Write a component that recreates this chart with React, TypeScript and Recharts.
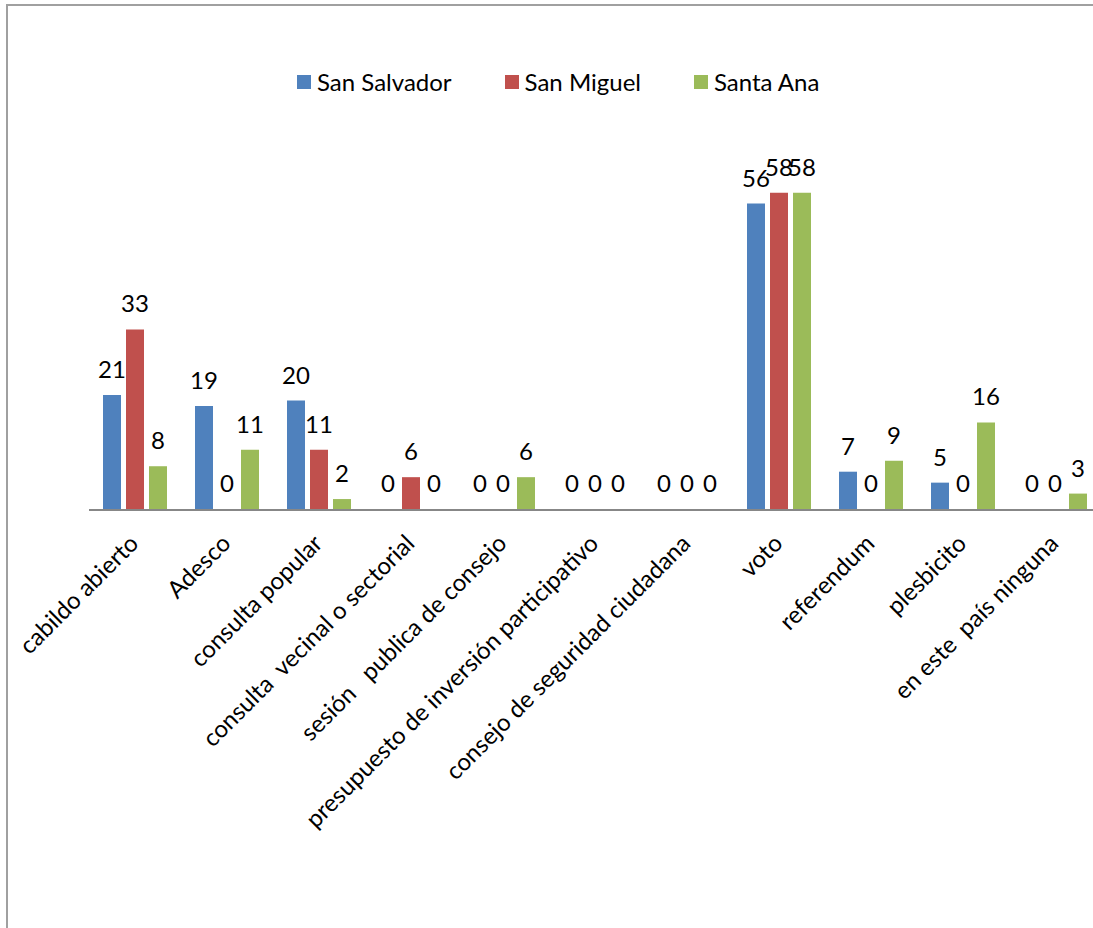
import React from 'react';
import { BarChart, Bar, XAxis, YAxis, Legend, LabelList, Rectangle } from 'recharts';

const categories = [
  'cabildo abierto',
  'Adesco',
  'consulta popular',
  'consulta  vecinal o sectorial',
  'sesión   publica de consejo',
  'presupuesto de inversión participativo',
  'consejo de seguridad ciudadana',
  'voto',
  'referendum',
  'plesbicito',
  'en este  país ninguna',
];

const sanSalvador = [21, 19, 20, 0, 0, 0, 0, 56, 7, 5, 0];
const sanMiguel = [33, 0, 11, 6, 0, 0, 0, 58, 0, 0, 0];
const santaAna = [8, 11, 2, 0, 6, 0, 0, 58, 9, 16, 3];

const seriesNames = ['San Salvador', 'San Miguel', 'Santa Ana'];
const seriesColors = ['#4F81BD', '#C0504D', '#9BBB59'];

const data = categories.map((name, i) => ({
  name,
  s0: sanSalvador[i],
  s1: sanMiguel[i],
  s2: santaAna[i],
}));

const FONT = 'Lato, "Liberation Sans", sans-serif';

const AngledTick = (props: any) => {
  const { x, y, payload } = props;
  const ax = x + 5;
  const ay = y + 35;
  return (
    <text
      x={ax}
      y={ay}
      textAnchor="end"
      transform={`rotate(-45, ${ax}, ${ay})`}
      fontSize={24}
      fontFamily={FONT}
      fill="#000"
      style={{ whiteSpace: 'pre' }}
    >
      {payload.value}
    </text>
  );
};

// zero values get a 1px bar so the label is kept; don't paint it
const BarShape = (props: any) => {
  if (!props.value || props.height <= 1.5) return <g />;
  return <Rectangle {...props} />;
};

const LegendBox = () => (
  <div style={{ display: 'flex', alignItems: 'center', fontFamily: FONT, fontSize: 24, color: '#000' }}>
    {seriesNames.map((n, i) => (
      <div key={n} style={{ display: 'flex', alignItems: 'center', marginRight: i < 2 ? 53 : 0 }}>
        <span style={{ width: 14, height: 14, background: seriesColors[i], display: 'inline-block', marginRight: 6 }} />
        <span style={{ lineHeight: '28px' }}>{n}</span>
      </div>
    ))}
  </div>
);

export default function App() {
  return (
    <div
      style={{
        position: 'absolute',
        left: 0,
        top: 0,
        width: 1093,
        height: 928,
        overflow: 'hidden',
        background: '#fff',
      }}
    >
      <div
        style={{
          position: 'absolute',
          left: 6,
          top: 4,
          width: 1200,
          height: 1000,
          border: '2px solid #a0a0a0',
          boxSizing: 'border-box',
        }}
      />
      <div style={{ position: 'absolute', left: 0, top: 0 }}>
        <BarChart
          width={1110}
          height={928}
          data={data}
          margin={{ top: 127, right: 9, left: 89, bottom: 0 }}
          barCategoryGap={14}
          barGap={5}
        >
          <XAxis
            dataKey="name"
            interval={0}
            height={418}
            tickLine={false}
            tickSize={0}
            tickMargin={0}
            axisLine={{ stroke: '#878787', strokeWidth: 2 }}
            tick={<AngledTick />}
          />
          <YAxis hide domain={[0, 70]} />
          <Legend
            verticalAlign="middle"
            align="center"
            content={<LegendBox />}
            wrapperStyle={{ left: 297, top: 68, width: 'auto' }}
          />
          {['s0', 's1', 's2'].map((k, i) => (
            <Bar
              key={k}
              dataKey={k}
              name={seriesNames[i]}
              fill={seriesColors[i]}
              minPointSize={1}
              shape={BarShape}
              isAnimationActive={false}
            >
              <LabelList
                dataKey={k}
                position="top"
                offset={17}
                fontSize={24}
                fontFamily={FONT}
                fill="#000"
              />
            </Bar>
          ))}
        </BarChart>
      </div>
    </div>
  );
}
